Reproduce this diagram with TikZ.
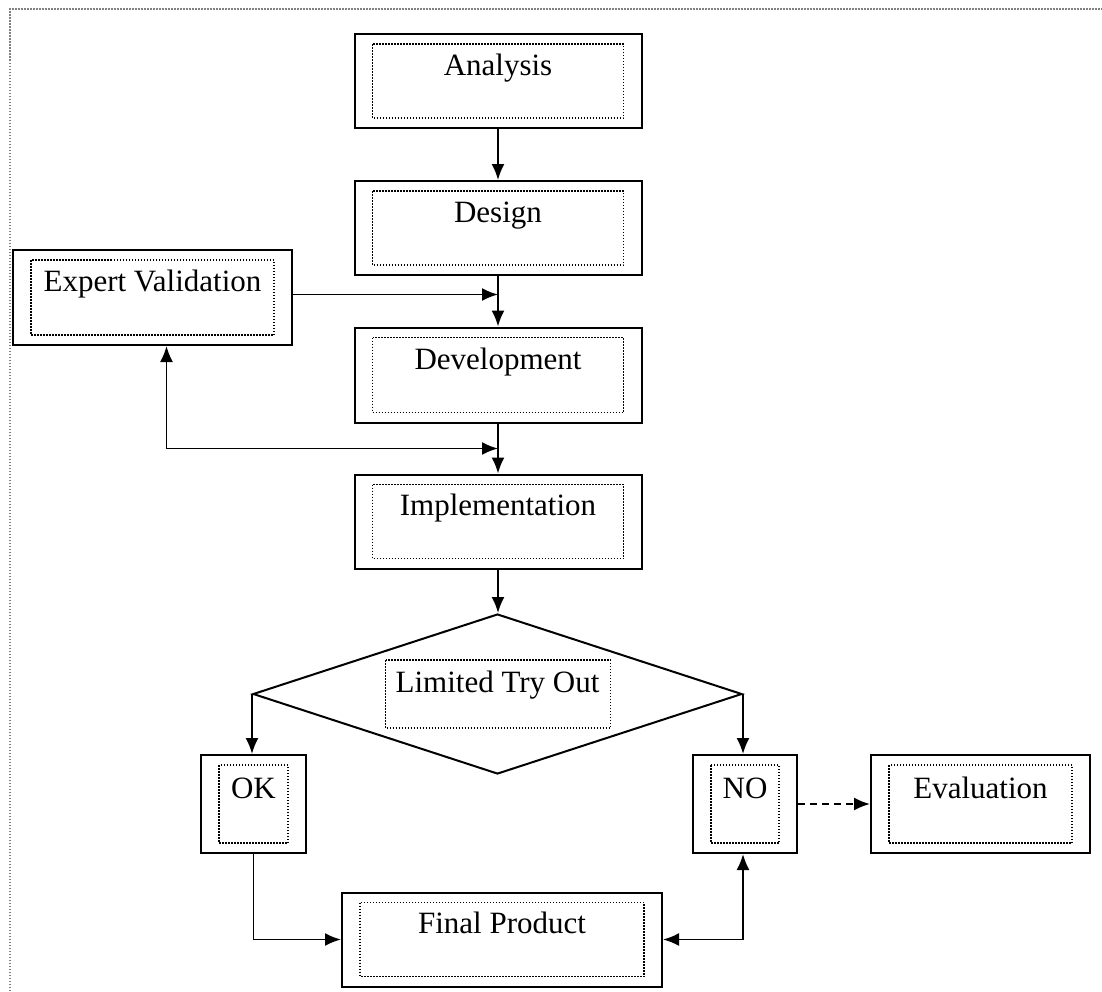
\documentclass[tikz,border=0pt]{standalone}
\usepackage{fontspec}
\setmainfont{Liberation Serif}
\usetikzlibrary{shapes.geometric,arrows.meta,calc}

\tikzset{
  stage/.style={draw, line width=2pt, minimum width=287pt, minimum height=94pt,
    inner sep=0pt, text height=41pt, text depth=53pt},
  inner/.style={line width=1.5pt, dash pattern=on 1.5pt off 1.5pt},
  arr/.style={line width=1.9pt, -{Latex[length=16pt,width=13pt]}},
  both/.style={line width=1.9pt, {Latex[length=16pt,width=13pt]}-{Latex[length=16pt,width=13pt]}},
}

\begin{document}
\begin{tikzpicture}[x=1pt, y=-1pt, font=\fontsize{31}{37}\selectfont]
  \useasboundingbox (0,0) rectangle (1102,991);
  \draw[inner, gray] (10,991) -- (10,9) -- (1102,9);

  % main column
  \node[stage] (analysis) at (498,81) {Analysis};
  \node[stage] (design) at (498,228) {Design};
  \node[stage, minimum height=95pt] (development) at (498,375) {Development};
  \node[stage, minimum height=93pt] (implementation) at (498,521.5) {Implementation};
  \node[stage, minimum width=279pt, minimum height=95pt] (validation) at (152.5,297.5) {Expert Validation};
  \node[draw, diamond, aspect=3.06, line width=2pt, minimum width=489pt, minimum height=160pt,
    inner sep=0pt, text height=30pt, text depth=34pt] (tryout) at (497.5,694) {Limited Try Out};
  \node[stage, minimum width=105pt, minimum height=98pt] (ok) at (253.5,804) {OK};
  \node[stage, minimum width=104pt, minimum height=98pt] (no) at (745,804) {NO};
  \node[stage, minimum width=219pt, minimum height=98pt] (evaluation) at (980.5,804) {Evaluation};
  \node[stage, minimum width=320pt, minimum height=93pt] (final) at (502,939.5) {Final Product};

  % dotted inner frames
  \foreach \n in {analysis,design,development,implementation,validation,ok,no,evaluation,final}
    \draw[inner] ([shift={(19,11)}]\n.north west) rectangle ([shift={(-19,-11)}]\n.south east);
  \draw[inner] ([shift={(-112,-34)}]tryout.center) rectangle ([shift={(113,34)}]tryout.center);

  % connectors
  \draw[arr] (analysis.south) -- (design.north);
  \draw[arr] (design.south) -- (development.north);
  \draw[arr] (development.south) -- (implementation.north);
  \draw[arr] (implementation.south) -- (implementation.south |- tryout.north);
  \draw[arr] ([yshift=3pt]validation.east) -- ([yshift=3pt]validation.east -| design.south);
  \coordinate (loop) at ($(development.south)!.5!(implementation.north)$);
  \draw[both] ([xshift=14pt]validation.south) |- (loop);
  \draw[arr] (tryout.west) -- (tryout.west |- ok.north);
  \draw[arr] (tryout.east) -- (tryout.east |- no.north);
  \draw[arr, dash pattern=on 7pt off 5pt] (no.east) -- (evaluation.west);
  \draw[arr] (ok.south) |- (final.west);
  \draw[both] (final.east) -| (tryout.east |- no.south);
\end{tikzpicture}
\end{document}
